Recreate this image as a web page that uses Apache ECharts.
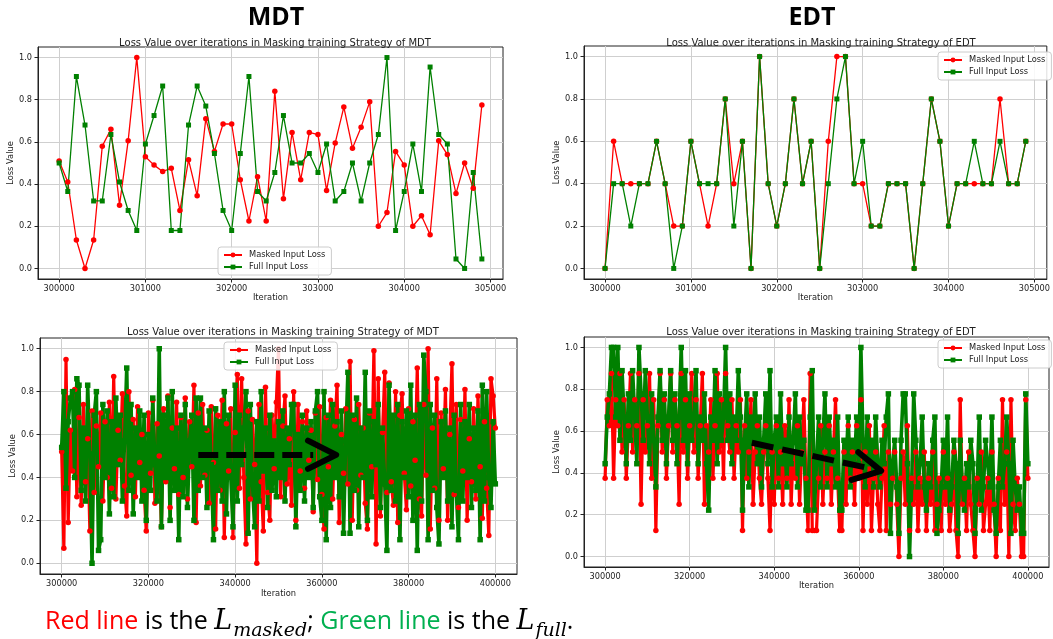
<!DOCTYPE html>
<html>
<head>
<meta charset="utf-8">
<script src="https://cdn.jsdelivr.net/npm/echarts@6/dist/echarts.min.js"></script>
<style>
html, body { margin: 0; padding: 0; background: #fff; }
#chart { width: 1053px; height: 639px; }
</style>
</head>
<body>
<div id="chart"></div>
<script>
// iterations of the short runs (top row)
var topIters = [
    300000, 300100, 300200, 300300, 300400, 300500, 300600, 300700, 300800, 300900,
    301000, 301100, 301200, 301300, 301400, 301500, 301600, 301700, 301800, 301900,
    302000, 302100, 302200, 302300, 302400, 302500, 302600, 302700, 302800, 302900,
    303000, 303100, 303200, 303300, 303400, 303500, 303600, 303700, 303800, 303900,
    304000, 304100, 304200, 304300, 304400, 304500, 304600, 304700, 304800, 304900
];
var mdtTopMasked = [
    0.51, 0.41, 0.135, 0.0, 0.135, 0.58, 0.66, 0.30, 0.605, 1.0,
    0.53, 0.49, 0.46, 0.475, 0.275, 0.515, 0.345, 0.71, 0.555, 0.685,
    0.685, 0.42, 0.225, 0.435, 0.225, 0.84, 0.33, 0.645, 0.42, 0.645,
    0.635, 0.37, 0.595, 0.765, 0.57, 0.67, 0.79, 0.20, 0.265, 0.555,
    0.49, 0.20, 0.25, 0.16, 0.605, 0.54, 0.355, 0.50, 0.38, 0.775
];
var mdtTopFull = [
    0.50, 0.365, 0.91, 0.68, 0.32, 0.32, 0.635, 0.41, 0.275, 0.18,
    0.59, 0.725, 0.865, 0.18, 0.18, 0.68, 0.865, 0.77, 0.545, 0.275,
    0.18, 0.545, 0.91, 0.365, 0.32, 0.455, 0.725, 0.50, 0.50, 0.545,
    0.455, 0.59, 0.32, 0.365, 0.50, 0.32, 0.50, 0.635, 1.0, 0.18,
    0.365, 0.59, 0.365, 0.955, 0.635, 0.59, 0.045, 0.0, 0.455, 0.045
];
var edtTopMasked = [
    0, 0.6, 0.4, 0.4, 0.4, 0.4, 0.6, 0.4, 0.2, 0.2,
    0.6, 0.4, 0.2, 0.4, 0.8, 0.4, 0.6, 0, 1.0, 0.4,
    0.2, 0.4, 0.8, 0.4, 0.6, 0, 0.6, 1.0, 1.0, 0.4,
    0.4, 0.2, 0.2, 0.4, 0.4, 0.4, 0, 0.4, 0.8, 0.6,
    0.2, 0.4, 0.4, 0.4, 0.4, 0.4, 0.8, 0.4, 0.4, 0.6
];
var edtTopFull = [
    0, 0.4, 0.4, 0.2, 0.4, 0.4, 0.6, 0.4, 0, 0.2,
    0.6, 0.4, 0.4, 0.4, 0.8, 0.2, 0.6, 0, 1.0, 0.4,
    0.2, 0.4, 0.8, 0.4, 0.6, 0, 0.4, 0.8, 1.0, 0.4,
    0.6, 0.2, 0.2, 0.4, 0.4, 0.4, 0, 0.4, 0.8, 0.6,
    0.2, 0.4, 0.4, 0.6, 0.4, 0.4, 0.6, 0.4, 0.4, 0.6
];

// iterations of the long runs (bottom row), thinned to every 500
var bottomIters = [
    300000, 300500, 301000, 301500, 302000, 302500, 303000, 303500, 304000, 304500,
    305000, 305500, 306000, 306500, 307000, 307500, 308000, 308500, 309000, 309500,
    310000, 310500, 311000, 311500, 312000, 312500, 313000, 313500, 314000, 314500,
    315000, 315500, 316000, 316500, 317000, 317500, 318000, 318500, 319000, 319500,
    320000, 320500, 321000, 321500, 322000, 322500, 323000, 323500, 324000, 324500,
    325000, 325500, 326000, 326500, 327000, 327500, 328000, 328500, 329000, 329500,
    330000, 330500, 331000, 331500, 332000, 332500, 333000, 333500, 334000, 334500,
    335000, 335500, 336000, 336500, 337000, 337500, 338000, 338500, 339000, 339500,
    340000, 340500, 341000, 341500, 342000, 342500, 343000, 343500, 344000, 344500,
    345000, 345500, 346000, 346500, 347000, 347500, 348000, 348500, 349000, 349500,
    350000, 350500, 351000, 351500, 352000, 352500, 353000, 353500, 354000, 354500,
    355000, 355500, 356000, 356500, 357000, 357500, 358000, 358500, 359000, 359500,
    360000, 360500, 361000, 361500, 362000, 362500, 363000, 363500, 364000, 364500,
    365000, 365500, 366000, 366500, 367000, 367500, 368000, 368500, 369000, 369500,
    370000, 370500, 371000, 371500, 372000, 372500, 373000, 373500, 374000, 374500,
    375000, 375500, 376000, 376500, 377000, 377500, 378000, 378500, 379000, 379500,
    380000, 380500, 381000, 381500, 382000, 382500, 383000, 383500, 384000, 384500,
    385000, 385500, 386000, 386500, 387000, 387500, 388000, 388500, 389000, 389500,
    390000, 390500, 391000, 391500, 392000, 392500, 393000, 393500, 394000, 394500,
    395000, 395500, 396000, 396500, 397000, 397500, 398000, 398500, 399000, 399500,
    400000
];
var mdtBottomMasked = [
    0.52, 0.07, 0.95, 0.19, 0.62, 0.43, 0.81, 0.31, 0.68, 0.27, 0.74, 0.38, 0.58, 0.15, 0.71, 0.33, 0.64, 0.45, 0.7, 0.29,
    0.66, 0.4, 0.75, 0.35, 0.87, 0.3, 0.62, 0.48, 0.79, 0.36, 0.22, 0.8, 0.41, 0.67, 0.31, 0.73, 0.47, 0.6, 0.34, 0.15,
    0.7, 0.42, 0.76, 0.28, 0.65, 0.5, 0.17, 0.72, 0.38, 0.78, 0.26, 0.63, 0.44, 0.75, 0.32, 0.68, 0.4, 0.77, 0.3, 0.66,
    0.45, 0.83, 0.19, 0.7, 0.36, 0.74, 0.41, 0.62, 0.28, 0.73, 0.47, 0.16, 0.69, 0.34, 0.76, 0.12, 0.65, 0.43, 0.72, 0.12,
    0.61, 0.88, 0.35, 0.86, 0.4, 0.09, 0.71, 0.3, 0.67, 0.46, 0.0, 0.74, 0.38, 0.15, 0.82, 0.33, 0.2, 0.69, 0.44, 0.75,
    1.0, 0.31, 0.64, 0.78, 0.37, 0.58, 0.27, 0.8, 0.2, 0.74, 0.43, 0.66, 0.35, 0.71, 0.48, 0.62, 0.24, 0.7, 0.39, 0.73,
    0.32, 0.16, 0.68, 0.45, 0.76, 0.3, 0.64, 0.83, 0.19, 0.6, 0.42, 0.72, 0.37, 0.94, 0.2, 0.67, 0.34, 0.74, 0.41, 0.63,
    0.28, 0.16, 0.7, 0.45, 0.99, 0.09, 0.86, 0.22, 0.61, 0.89, 0.33, 0.84, 0.38, 0.27, 0.8, 0.19, 0.69, 0.79, 0.42, 0.25,
    0.72, 0.36, 0.66, 0.48, 0.91, 0.3, 0.22, 0.74, 0.41, 1.0, 0.16, 0.63, 0.35, 0.86, 0.2, 0.7, 0.44, 0.81, 0.2, 0.6,
    0.93, 0.32, 0.74, 0.26, 0.67, 0.43, 0.81, 0.2, 0.58, 0.38, 0.72, 0.3, 0.78, 0.45, 0.21, 0.66, 0.35, 0.13, 0.86, 0.78,
    0.63
];
var mdtBottomFull = [
    0.54, 0.8, 0.35, 0.66, 0.77, 0.8, 0.4, 0.86, 0.83, 0.34, 0.63, 0.29, 0.83, 0.51, 0.0, 0.69, 0.8, 0.06, 0.11, 0.74,
    0.4, 0.71, 0.23, 0.66, 0.31, 0.77, 0.46, 0.69, 0.29, 0.57, 0.91, 0.34, 0.74, 0.23, 0.63, 0.4, 0.71, 0.29, 0.69, 0.2,
    0.6, 0.34, 0.77, 0.46, 0.29, 1.0, 0.17, 0.69, 0.4, 0.77, 0.2, 0.8, 0.34, 0.63, 0.11, 0.69, 0.31, 0.74, 0.26, 0.57,
    0.69, 0.2, 0.77, 0.34, 0.77, 0.4, 0.63, 0.26, 0.71, 0.46, 0.11, 0.72, 0.34, 0.66, 0.29, 0.8, 0.23, 0.69, 0.4, 0.17,
    0.83, 0.29, 0.69, 0.46, 0.63, 0.8, 0.14, 0.74, 0.37, 0.17, 0.66, 0.29, 0.8, 0.43, 0.63, 0.26, 0.69, 0.34, 0.57, 0.31,
    0.66, 0.4, 0.71, 0.29, 0.63, 0.46, 0.74, 0.74, 0.17, 0.6, 0.34, 0.69, 0.29, 0.63, 0.4, 0.66, 0.26, 0.71, 0.8, 0.31,
    0.2, 0.8, 0.11, 0.69, 0.26, 0.74, 0.4, 0.66, 0.31, 0.71, 0.14, 0.57, 0.89, 0.14, 0.69, 0.34, 0.77, 0.17, 0.63, 0.4,
    0.89, 0.2, 0.71, 0.31, 0.66, 0.46, 0.74, 0.26, 0.63, 0.37, 0.06, 0.83, 0.34, 0.69, 0.29, 0.74, 0.11, 0.66, 0.4, 0.71,
    0.31, 0.83, 0.2, 0.69, 0.06, 0.74, 0.29, 0.97, 0.8, 0.11, 0.74, 0.34, 0.69, 0.26, 0.09, 0.66, 0.4, 0.71, 0.29, 0.63,
    0.17, 0.69, 0.34, 0.11, 0.74, 0.29, 0.66, 0.4, 0.74, 0.26, 0.63, 0.34, 0.71, 0.11, 0.83, 0.29, 0.8, 0.4, 0.26, 0.66,
    0.37
];
var edtBottomMasked = [
    0.375, 0.75, 0.625, 0.875, 0.375, 0.75, 0.625, 0.875, 0.5, 0.75, 0.375, 0.625, 0.875, 0.5, 0.75, 0.625, 0.875, 0.25, 0.75, 0.5,
    0.625, 0.875, 0.375, 0.75, 0.125, 0.625, 0.875, 0.5, 0.75, 0.375, 0.625, 0.875, 0.5, 0.75, 0.625, 0.25, 0.875, 0.5, 0.75, 0.375,
    0.625, 0.875, 0.5, 0.75, 0.375, 0.625, 0.875, 0.25, 0.625, 0.5, 0.75, 0.375, 0.625, 0.875, 0.5, 0.75, 0.375, 0.875, 0.625, 0.5,
    0.75, 0.375, 0.625, 0.5, 0.75, 0.125, 0.625, 0.375, 0.5, 0.75, 0.25, 0.5, 0.625, 0.375, 0.25, 0.5, 0.625, 0.375, 0.125, 0.5,
    0.25, 0.625, 0.375, 0.5, 0.25, 0.625, 0.375, 0.75, 0.25, 0.5, 0.375, 0.625, 0.25, 0.5, 0.75, 0.375, 0.125, 0.875, 0.125, 0.125,
    0.125, 0.375, 0.625, 0.25, 0.5, 0.375, 0.625, 0.25, 0.5, 0.75, 0.375, 0.125, 0.125, 0.5, 0.25, 0.625, 0.375, 0.5, 0.25, 0.625,
    0.375, 0.75, 0.125, 0.5, 0.25, 0.625, 0.125, 0.375, 0.5, 0.25, 0.125, 0.375, 0.625, 0.125, 0.5, 0.25, 0.375, 0.5, 0.25, 0,
    0.375, 0.5, 0.25, 0.625, 0.125, 0.375, 0.25, 0.5, 0.125, 0.375, 0.25, 0.5, 0.125, 0.375, 0.25, 0.5, 0.125, 0.25, 0.375, 0.125,
    0.5, 0.25, 0.375, 0.125, 0.25, 0.5, 0.125, 0, 0.75, 0.25, 0.375, 0.125, 0.5, 0.25, 0.125, 0, 0.375, 0.25, 0.5, 0.125,
    0.25, 0.375, 0.125, 0.5, 0.25, 0, 0.375, 0.125, 0.75, 0.25, 0.5, 0, 0.75, 0.25, 0.125, 0.375, 0.25, 0, 0, 0.75,
    0.375
];
var edtBottomFull = [
    0.444, 0.667, 0.778, 1, 1, 0.667, 1, 0.556, 0.889, 0.667, 0.444, 0.778, 0.556, 0.889, 0.667, 0.444, 1, 0.778, 0.556, 0.889,
    0.667, 0.444, 0.778, 0.556, 0.333, 0.667, 0.889, 0.556, 0.778, 0.444, 0.667, 0.889, 0.556, 0.778, 0.444, 0.667, 1, 0.556, 0.889, 0.444,
    0.778, 0.556, 0.667, 0.889, 0.444, 0.667, 0.556, 0.778, 0.444, 0.222, 0.667, 0.556, 0.889, 0.444, 0.778, 0.556, 0.667, 1, 0.556, 0.778,
    0.444, 0.667, 0.556, 0.889, 0.667, 0.222, 0.556, 0.778, 0.333, 0.667, 0.556, 0.778, 0.444, 0.667, 0.333, 0.556, 0.778, 0.444, 0.889, 0.333,
    0.556, 0.667, 0.333, 0.778, 0.444, 0.556, 0.333, 0.667, 0.444, 0.556, 0.778, 0.333, 0.667, 0.444, 0.556, 0.222, 0.222, 0.667, 0.889, 0.222,
    0.444, 0.667, 0.333, 0.556, 0.778, 0.333, 0.667, 0.444, 0.556, 0.333, 0.667, 0.222, 0.222, 0.556, 0.444, 0.667, 0.333, 0.556, 0.444, 0.667,
    0.444, 1, 0.556, 0.333, 0.667, 0.444, 0.556, 0.333, 0.667, 0.444, 0.333, 0.556, 0.444, 0.667, 0.778, 0.111, 0.444, 0.556, 0.333, 0.111,
    0.556, 0.778, 0.778, 0.444, 0, 0.333, 0.778, 0.556, 0.333, 0.444, 0.667, 0.333, 0.222, 0.444, 0.333, 0.556, 0.667, 0.111, 0.222, 0.333,
    0.556, 0.333, 0.667, 0.222, 0.333, 0.556, 0.444, 0.111, 0.556, 0.333, 0.222, 0.444, 0.333, 0.556, 0.444, 0.111, 0.333, 0.667, 0.222, 0.333,
    0.556, 0.444, 0.333, 0.667, 0.222, 0.111, 0.333, 0.556, 0.333, 0.444, 0.667, 0.444, 0.111, 0.556, 0.333, 0.222, 0.333, 0.111, 0.111, 0.778,
    0.444
];

var topXTicks = [300000, 301000, 302000, 303000, 304000, 305000];
var bottomXTicks = [300000, 320000, 340000, 360000, 380000, 400000];
var yTicks = [0, 0.2, 0.4, 0.6, 0.8, 1.0];
var plotTitle = 'Loss Value over iterations in Masking training Strategy of ';

var RED = '#ff0000', GREEN = '#008000', INK = '#222222';
var FONT = 'DejaVu Sans';

function pairs(xs, ys) {
    return xs.map(function (x, i) { return [x, ys[i]]; });
}

// one panel per grid: TL, TR, BL, BR
var grids = [
    {left: 38, top: 47, width: 465, height: 232},
    {left: 584, top: 46, width: 465, height: 233},
    {left: 40, top: 338, width: 477, height: 236},
    {left: 584, top: 337, width: 465, height: 230}
];
grids.forEach(function (g) {
    g.show = true;
    g.borderColor = INK;
    g.borderWidth = 1;
    g.containLabel = false;
});

function xAxis(idx, min, max, ticks, nameGap) {
    return {
        type: 'value', gridIndex: idx, min: min, max: max,
        name: 'Iteration', nameLocation: 'middle', nameGap: nameGap,
        nameTextStyle: {fontFamily: FONT, fontSize: 8.3, color: INK},
        axisLine: {show: true, onZero: false, lineStyle: {color: INK, width: 1}},
        axisTick: {show: true, length: 3.5, customValues: ticks, lineStyle: {color: INK}},
        axisLabel: {
            customValues: ticks, margin: 6, fontFamily: FONT, fontSize: 8.2, color: INK,
            formatter: function (v) { return String(v); }
        },
        splitLine: {show: true, lineStyle: {color: '#cfcfcf', width: 1}}
    };
}

function yAxis(idx, nameGap) {
    return {
        type: 'value', gridIndex: idx, min: -0.05, max: 1.05,
        name: 'Loss Value', nameLocation: 'middle', nameGap: nameGap, nameRotate: 90,
        nameTextStyle: {fontFamily: FONT, fontSize: 8.3, color: INK},
        axisLine: {show: true, onZero: false, lineStyle: {color: INK, width: 1}},
        axisTick: {show: true, length: 3.5, customValues: yTicks, lineStyle: {color: INK}},
        axisLabel: {
            customValues: yTicks, margin: 6, fontFamily: FONT, fontSize: 8.2, color: INK,
            formatter: function (v) { return v.toFixed(1); }
        },
        splitLine: {show: true, lineStyle: {color: '#cfcfcf', width: 1}}
    };
}

function lossSeries(idx, name, xs, ys, color, symbol, size, width) {
    return {
        type: 'line', name: name, xAxisIndex: idx, yAxisIndex: idx,
        data: pairs(xs, ys),
        symbol: symbol, symbolSize: size, showAllSymbol: true,
        itemStyle: {color: color, borderWidth: 0},
        lineStyle: {color: color, width: width},
        emphasis: {disabled: true},
        animation: false
    };
}

function legend(left, top) {
    return {
        left: left, top: top, orient: 'vertical',
        data: ['Masked Input Loss', 'Full Input Loss'],
        itemWidth: 18, itemHeight: 6, itemGap: 4,
        padding: [4, 6, 4, 5],
        backgroundColor: 'rgba(255,255,255,0.85)',
        borderColor: '#cccccc', borderWidth: 1, borderRadius: 3,
        textStyle: {fontFamily: FONT, fontSize: 8.3, color: INK, padding: [0, 0, 0, 2]},
        selectedMode: false
    };
}

function panelTitle(text, cx, top) {
    return {
        text: text, left: cx, top: top, textAlign: 'center',
        textStyle: {fontFamily: FONT, fontSize: 10, fontWeight: 'normal', color: INK}
    };
}

var chart = echarts.init(document.getElementById('chart'), null, {renderer: 'canvas'});

var capText = {fontFamily: 'Open Sans', fontSize: 25, fontWeight: 'normal', verticalAlign: 'bottom', padding: [0, 0, 7, 0]};
function cap(extra) {
    return Object.assign({}, capText, extra);
}

var option = {
    animation: false,
    backgroundColor: '#ffffff',
    title: [
        {text: 'MDT', left: 271, top: 0, textAlign: 'center',
            textStyle: {fontFamily: 'Open Sans', fontSize: 25, fontWeight: 'bold', color: '#000'}},
        {text: 'EDT', left: 807, top: 0, textAlign: 'center',
            textStyle: {fontFamily: 'Open Sans', fontSize: 25, fontWeight: 'bold', color: '#000'}},
        panelTitle(plotTitle + 'MDT', 270, 33),
        panelTitle(plotTitle + 'EDT', 816, 33),
        panelTitle(plotTitle + 'MDT', 278, 322),
        panelTitle(plotTitle + 'EDT', 816, 322),
        {
            left: 40, top: 603,
            text: '{r|Red line}{k| is the }{m|L}{s|masked}{k|; }{g|Green line}{k| is the }{m|L}{s|full}{k|.}',
            textStyle: {
                fontWeight: 'normal',
                rich: {
                    r: cap({color: '#ff0000'}),
                    g: cap({color: '#00b050'}),
                    k: cap({color: '#000000'}),
                    m: {fontFamily: 'DejaVu Serif', fontStyle: 'italic', fontWeight: 'normal', fontSize: 27, color: '#000',
                        verticalAlign: 'bottom', padding: [0, 1, 6, 0]},
                    s: {fontFamily: 'DejaVu Serif', fontStyle: 'italic', fontWeight: 'normal', fontSize: 19, color: '#000',
                        verticalAlign: 'bottom', padding: [0, 0, 0, 0]}
                }
            }
        }
    ],
    legend: [legend(218, 247), legend(938, 52), legend(224, 342), legend(938, 340)],
    grid: grids,
    xAxis: [
        xAxis(0, 299755, 305145, topXTicks, 14),
        xAxis(1, 299755, 305145, topXTicks, 14),
        xAxis(2, 295000, 405000, bottomXTicks, 16),
        xAxis(3, 295000, 405000, bottomXTicks, 15)
    ],
    yAxis: [yAxis(0, 23), yAxis(1, 23), yAxis(2, 23), yAxis(3, 22)],
    series: [
        lossSeries(0, 'Masked Input Loss', topIters, mdtTopMasked, RED, 'circle', 5.5, 1.3),
        lossSeries(0, 'Full Input Loss', topIters, mdtTopFull, GREEN, 'rect', 5, 1.3),
        lossSeries(1, 'Masked Input Loss', topIters, edtTopMasked, RED, 'circle', 5.5, 1.3),
        lossSeries(1, 'Full Input Loss', topIters, edtTopFull, GREEN, 'rect', 5, 1.3),
        lossSeries(2, 'Masked Input Loss', bottomIters, mdtBottomMasked, RED, 'circle', 5.5, 3.2),
        lossSeries(2, 'Full Input Loss', bottomIters, mdtBottomFull, GREEN, 'rect', 5.5, 3.6),
        lossSeries(3, 'Masked Input Loss', bottomIters, edtBottomMasked, RED, 'circle', 5.5, 3.2),
        lossSeries(3, 'Full Input Loss', bottomIters, edtBottomFull, GREEN, 'rect', 5.5, 3.6)
    ]
};
chart.setOption(option);

// dashed trend arrows, placed in data space of the bottom panels
function px(g, x, y) {
    return chart.convertToPixel({gridIndex: g}, [x, y]);
}
var arrowStyle = {stroke: '#000', lineWidth: 6, fill: null, lineJoin: 'round', lineCap: 'round'};
chart.setOption({
    graphic: [
        {type: 'polyline', z: 100, shape: {points: [px(2, 331500, 0.505), px(2, 358000, 0.505)]},
            style: {stroke: '#000', lineWidth: 6, fill: null, lineDash: [20, 8]}},
        {type: 'polyline', z: 100, shape: {points: [px(2, 356800, 0.572), px(2, 363300, 0.505), px(2, 356800, 0.44)]},
            style: arrowStyle},
        {type: 'polyline', z: 100, shape: {points: [px(3, 334700, 0.544), px(3, 363000, 0.42)]},
            style: {stroke: '#000', lineWidth: 6, fill: null, lineDash: [22, 9]}},
        {type: 'polyline', z: 100, shape: {points: [px(3, 359900, 0.499), px(3, 365300, 0.41), px(3, 358300, 0.367)]},
            style: arrowStyle}
    ]
});
</script>
</body>
</html>
